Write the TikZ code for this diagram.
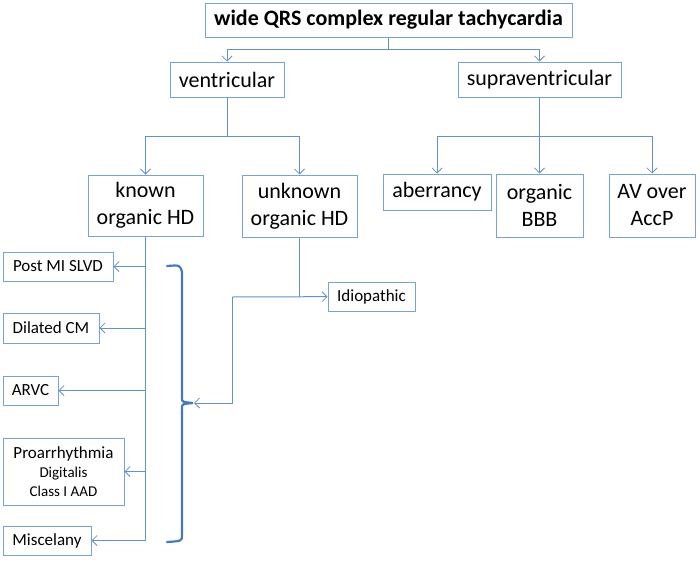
\documentclass[tikz,border=0pt]{standalone}
\usepackage{fontspec}
\setmainfont{Carlito}
\usetikzlibrary{arrows.meta}
\definecolor{boxblue}{RGB}{120,162,214}
\definecolor{lineblue}{RGB}{98,146,205}
\definecolor{braceblue}{RGB}{70,120,190}

\tikzset{
  box/.style={draw=boxblue, line width=1pt, inner sep=0pt, align=center, text=black},
  big/.style={font=\fontsize{22}{27}\selectfont},
  small/.style={font=\fontsize{17}{19}\selectfont},
  link/.style={draw=lineblue, line width=1pt},
  arr/.style={link, -{Straight Barb[length=5pt,width=10pt,line width=0.8pt]}}
}

\begin{document}
\begin{tikzpicture}[x=1pt, y=-1pt]
    \useasboundingbox (0,0) rectangle (700,562);
    % top levels
    \node[box, big, font=\fontsize{22}{27}\selectfont\bfseries, minimum width=367pt, minimum height=34pt] (title) at (388.5,20) {wide QRS complex regular tachycardia};
    \node[box, big, minimum width=114pt, minimum height=35pt] (vent) at (227,79.5) {ventricular};
    \node[box, big, minimum width=163pt, minimum height=35pt] (supra) at (539.5,79.5) {supraventricular};
    \node[box, big, minimum width=115pt, minimum height=61pt] (known) at (145.5,205.5) {known\\organic HD};
    \node[box, big, minimum width=115pt, minimum height=62pt] (unknown) at (299.5,206) {unknown\\organic HD};
    \node[box, big, minimum width=108pt, minimum height=36pt] (aberr) at (437,192) {aberrancy};
    \node[box, big, minimum width=87pt, minimum height=63pt] (bbb) at (539.5,205.5) {organic\\BBB};
    \node[box, big, minimum width=86pt, minimum height=63pt] (accp) at (652,205.5) {AV over\\AccP};
    % causes
    \node[box, small, minimum width=110pt, minimum height=29pt] (postmi) at (58,266.5) {Post MI SLVD};
    \node[box, small, minimum width=96pt, minimum height=30pt] (dilcm) at (51,328) {Dilated CM};
    \node[box, small, minimum width=55pt, minimum height=29pt] (arvc) at (30.5,390.5) {ARVC};
    \node[box, small, minimum width=121pt, minimum height=67pt] (proarr) at (63.5,471.5) {Proarrhythmia\\{\fontsize{15}{18}\selectfont Digitalis}\\{\fontsize{15}{18}\selectfont Class I AAD}};
    \node[box, small, minimum width=88pt, minimum height=29pt] (misc) at (47,540.5) {Miscelany};
    \node[box, small, minimum width=87pt, minimum height=29pt] (idio) at (371.5,296.5) {Idiopathic};

    \coordinate (j1) at (388.5,49);
    \coordinate (j2) at (227,136);
    \coordinate (j3) at (539.5,136);
    \coordinate (j4) at (232,297);
    \coordinate (tip) at (194,403);

    \path[link] (title) -- (j1);
    \path[arr] (j1) -| (vent.north);
    \path[arr] (j1) -| (supra.north);
    \path[link] (vent) -- (j2);
    \path[arr] (j2) -| (known.north);
    \path[arr] (j2) -| (unknown.north);
    \path[arr] (supra) -- (bbb);
    \path[arr] (j3) -| (aberr.north);
    \path[arr] (j3) -| (accp.north);

    \path[link] (known) -- (misc -| known);
    \path[arr] (postmi -| known) -- (postmi);
    \path[arr] (dilcm -| known) -- (dilcm);
    \path[arr] (arvc -| known) -- (arvc);
    \path[arr] (proarr -| known) -- (proarr);
    \path[arr] (misc -| known) -- (misc);

    \path[link] (unknown) -- (unknown |- idio);
    \path[arr] (j4) -- (idio);
    \path[arr] (j4) |- (tip);

    % brace
    \draw[braceblue, line width=2.2pt, line cap=round]
      (167,266) .. controls (180,265) .. (182,272) -- (182,398)
      .. controls (182,402) .. (193,403) .. controls (182,404) .. (182,408)
      -- (182,535) .. controls (182,541) .. (167,542);
\end{tikzpicture}
\end{document}
